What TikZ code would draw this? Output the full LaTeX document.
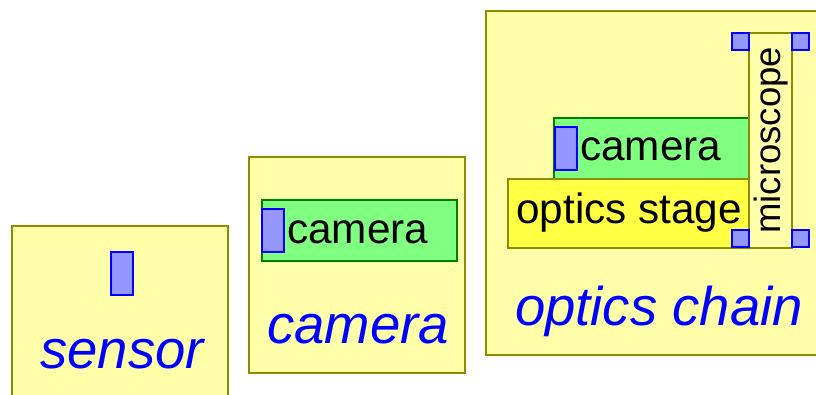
\documentclass[tikz,border=0pt]{standalone}
\usepackage{fontspec}
\setmainfont{Liberation Sans}
\definecolor{paleyellow}{RGB}{255,255,170}
\definecolor{olive}{RGB}{140,140,0}
\definecolor{stageyellow}{RGB}{255,255,68}
\definecolor{lightgreen}{RGB}{128,255,128}
\definecolor{darkgreen}{RGB}{0,128,0}
\definecolor{pinblue}{RGB}{150,150,255}
\begin{document}
\begin{tikzpicture}[x=1pt, y=-1pt,
    box/.style={draw=olive, fill=paleyellow, line width=1.8pt, anchor=north west, inner sep=0pt},
    cam/.style={draw=darkgreen, fill=lightgreen, line width=1.5pt, anchor=north west, inner sep=0pt},
    stagebox/.style={draw=olive, fill=stageyellow, line width=1.5pt, anchor=north west, inner sep=0pt},
    pin/.style={draw=blue, fill=pinblue, line width=1.5pt, anchor=north west, inner sep=0pt, minimum width=22pt, minimum height=43pt},
    port/.style={draw=blue, fill=pinblue, line width=1.5pt, anchor=north west, inner sep=0pt, minimum size=17pt},
    txt/.style={inner sep=0pt, anchor=base west, font=\fontsize{42.3}{48}\selectfont},
    title/.style={inner sep=0pt, anchor=base, text=blue, font=\fontsize{54.5}{62}\selectfont\itshape}]
    \useasboundingbox (0,0) rectangle (816,394);

    \node[box, minimum width=216pt, minimum height=200pt] (s) at (11,225) {};
    \node[pin] (s1) at (110,251) {};
    \node[title] (s2) at (122,368) {sensor};

    \node[box, minimum width=216pt, minimum height=216pt] (c) at (248,156) {};
    \node[cam, minimum width=195pt, minimum height=61pt] (c1) at (261,199) {};
    \node[pin] (c2) at (261,208) {};
    \node[txt] (c3) at (287,243) {camera};
    \node[title] (c4) at (358,343) {camera};

    \node[box, minimum width=400pt, minimum height=344pt] (o) at (485,10) {};
    \node[cam, minimum width=195pt, minimum height=61pt] (o1) at (553,117) {};
    \node[pin] (o2) at (554,126) {};
    \node[txt] (o3) at (580,160) {camera};
    \node[stagebox, minimum width=241pt, minimum height=69pt] (o4) at (507,178) {};
    \node[txt] (o5) at (516,223) {optics stage};
    \node[box, line width=1.5pt, minimum width=43pt, minimum height=215pt] (o6) at (748,32) {};
    \node[rotate=90, inner sep=0pt, font=\fontsize{36.5}{42}\selectfont] (o7) at ([xshift=1pt]o6.center) {microscope};
    \node[port] (p1) at (731,32) {};
    \node[port] (p2) at (791,32) {};
    \node[port] (p3) at (731,229) {};
    \node[port] (p4) at (791,229) {};
    \node[title] (o8) at (659,325) {optics chain};
\end{tikzpicture}
\end{document}
